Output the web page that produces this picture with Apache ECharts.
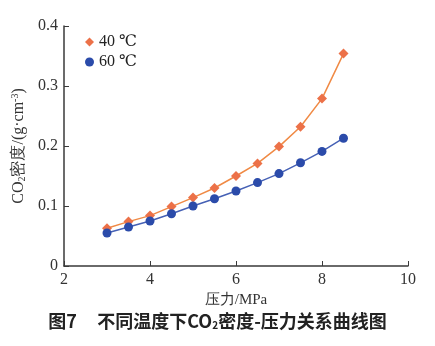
<!DOCTYPE html>
<html>
<head>
<meta charset="utf-8">
<script src="https://cdn.jsdelivr.net/npm/echarts@6/dist/echarts.min.js"></script>
<style>
  html, body { margin: 0; padding: 0; background: #fff; }
  #chart { width: 435px; height: 346px; }
</style>
</head>
<body>
<div id="chart"></div>
<script>
// Pressure (MPa) and CO2 density (g/cm3) at two temperatures
const pressure = [3, 3.5, 4, 4.5, 5, 5.5, 6, 6.5, 7, 7.5, 8, 8.5];
const density40 = [0.063, 0.074, 0.084, 0.099, 0.114, 0.130, 0.150, 0.171, 0.199, 0.232, 0.279, 0.354];
const density60 = [0.055, 0.065, 0.075, 0.087, 0.100, 0.112, 0.125, 0.139, 0.154, 0.172, 0.191, 0.213];
const seriesNames = ['40 ℃', '60 ℃'];
const xTicks = [2, 4, 6, 8, 10];
const yTicks = [0, 0.1, 0.2, 0.3, 0.4];

const serif = '"Liberation Serif", "DejaVu Serif", serif';
const axisColor = '#3a3a3a';

const pairs = (ys) => pressure.map((p, i) => [p, ys[i]]);

const chart = echarts.init(document.getElementById('chart'));
chart.setOption({
  animation: false,
  backgroundColor: '#fff',
  grid: { left: 64, right: 27, top: 26, bottom: 80 },
  legend: {
    left: 80, top: 29, orient: 'vertical', itemGap: 4,
    itemWidth: 9, itemHeight: 9,
    textStyle: { fontFamily: serif, fontSize: 16, color: '#222' },
    data: [
      { name: seriesNames[0], icon: 'diamond', itemStyle: { color: '#EC7148' } },
      { name: seriesNames[1], icon: 'circle', itemStyle: { color: '#2B4BAA' } }
    ]
  },
  xAxis: {
    type: 'value', min: xTicks[0], max: xTicks[xTicks.length - 1], interval: 2,
    name: '压力/MPa', nameLocation: 'middle', nameGap: 25,
    nameTextStyle: { fontFamily: serif, fontSize: 15, color: '#333' },
    axisLine: { show: true, lineStyle: { color: axisColor, width: 1.5 } },
    axisTick: { show: true, inside: true, length: 5, lineStyle: { color: axisColor } },
    axisLabel: { fontFamily: serif, fontSize: 16, color: '#333', margin: 6 },
    splitLine: { show: false }
  },
  yAxis: {
    type: 'value', min: yTicks[0], max: yTicks[yTicks.length - 1], interval: 0.1,
    name: '{n|CO}{sub|2}{n|密度/(g·cm}{sup|-3}{n|)}',
    nameLocation: 'middle', nameGap: 34, nameRotate: 90,
    nameTextStyle: {
      rich: {
        n: { fontFamily: serif, fontSize: 16, color: '#333' },
        sub: { fontFamily: serif, fontSize: 10, color: '#333', verticalAlign: 'bottom', padding: [7, 0, 0, 0] },
        sup: { fontFamily: serif, fontSize: 10, color: '#333', verticalAlign: 'top', padding: [0, 0, 7, 0] }
      }
    },
    axisLine: { show: true, lineStyle: { color: axisColor, width: 1.5 } },
    axisTick: { show: true, inside: true, length: 5, lineStyle: { color: axisColor } },
    axisLabel: {
      fontFamily: serif, fontSize: 16, color: '#333', margin: 6,
      formatter: (v) => (v === 0 ? '0' : v.toFixed(1))
    },
    splitLine: { show: false }
  },
  series: [
    {
      name: seriesNames[0], type: 'line', data: pairs(density40),
      symbol: 'diamond', symbolSize: 10,
      lineStyle: { color: '#F08A45', width: 1.5 },
      itemStyle: { color: '#EC7148' }
    },
    {
      name: seriesNames[1], type: 'line', data: pairs(density60),
      symbol: 'circle', symbolSize: 9,
      lineStyle: { color: '#4661B5', width: 1.5 },
      itemStyle: { color: '#2B4BAA' }
    }
  ],
  graphic: [{
    type: 'text', left: 'center', top: 312,
    style: {
      text: '{b|图7     不同温度下CO}{s|2}{b|密度-压力关系曲线图}',
      rich: {
        b: { fontFamily: '"Noto Sans CJK SC", sans-serif', fontSize: 18, fontWeight: 'bold', fill: '#222' },
        s: { fontFamily: '"Noto Sans CJK SC", sans-serif', fontSize: 10, fontWeight: 'bold', fill: '#222', verticalAlign: 'bottom', padding: [9, 0, 0, 0] }
      }
    }
  }]
});
</script>
</body>
</html>
